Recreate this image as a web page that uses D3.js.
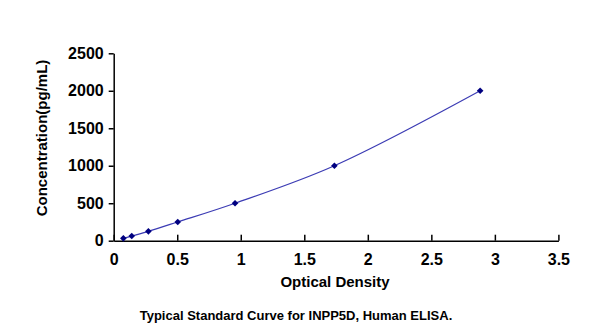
<!DOCTYPE html>
<html>
<head>
<meta charset="utf-8">
<script src="https://cdn.jsdelivr.net/npm/d3@7"></script>
<style>
  html, body { margin: 0; padding: 0; background: #fff; }
  svg { display: block; }
  text { font-family: Arial, "Liberation Sans", sans-serif; font-weight: bold; fill: #000; }
</style>
</head>
<body>
<svg id="chart" width="600" height="329"></svg>
<script>
const odValues = [0.076, 0.142, 0.273, 0.504, 0.955, 1.737, 2.884];
const concValues = [31.25, 62.5, 125, 250, 500, 1000, 2000];
const xTicks = [0, 0.5, 1, 1.5, 2, 2.5, 3, 3.5];
const yTicks = [0, 500, 1000, 1500, 2000, 2500];
const xTitle = "Optical Density";
const yTitle = "Concentration(pg/mL)";
const caption = "Typical Standard Curve for INPP5D, Human ELISA.";

const svg = d3.select("#chart");
const x = d3.scaleLinear().domain([0, 3.5]).range([113.7, 558.4]);
const y = d3.scaleLinear().domain([0, 2500]).range([240.7, 53.3]);
const fmt = d => String(d);

// X axis (ticks pointing up, inside)
const xAxis = svg.append("g").attr("transform", `translate(0,${y(0)})`)
  .call(d3.axisBottom(x).tickValues(xTicks).tickSizeInner(-6).tickSizeOuter(0).tickFormat(fmt));
xAxis.select(".domain").attr("stroke", "#000").attr("stroke-width", 1.5);
xAxis.selectAll(".tick line").attr("stroke", "#000").attr("stroke-width", 1.5);
xAxis.selectAll(".tick text").attr("y", 13).attr("dy", "0.71em")
  .style("font-size", "16px").style("font-family", "Arial, 'Liberation Sans', sans-serif").style("font-weight", "bold");

// Y axis (ticks pointing left)
const yAxis = svg.append("g").attr("transform", `translate(${x(0)},0)`)
  .call(d3.axisLeft(y).tickValues(yTicks).tickSizeInner(5).tickSizeOuter(0).tickFormat(fmt));
yAxis.select(".domain").attr("stroke", "#000").attr("stroke-width", 1.5);
yAxis.selectAll(".tick line").attr("stroke", "#000").attr("stroke-width", 1.5);
yAxis.selectAll(".tick text").attr("x", -10)
  .style("font-size", "16px").style("font-family", "Arial, 'Liberation Sans', sans-serif").style("font-weight", "bold");

// Curve
const pts = odValues.map((v, i) => [v, concValues[i]]);
const line = d3.line().x(d => x(d[0])).y(d => y(d[1])).curve(d3.curveCatmullRom.alpha(0.5));
svg.append("path").datum(pts).attr("d", line)
  .attr("fill", "none").attr("stroke", "#3c3cb4").attr("stroke-width", 1.2);

// Markers (square diamonds)
const diamond = d3.symbolDiamond2 || d3.symbolDiamond;
svg.append("g").selectAll("path").data(pts).join("path")
  .attr("transform", d => `translate(${x(d[0])},${y(d[1])})`)
  .attr("d", d3.symbol().type(diamond).size(28))
  .attr("fill", "#000080");

// Titles
svg.append("text").attr("x", 335).attr("y", 287).attr("text-anchor", "middle")
  .style("font-size", "15px").text(xTitle);
svg.append("text").attr("transform", "translate(47,138) rotate(-90)").attr("text-anchor", "middle")
  .style("font-size", "15px").text(yTitle);
svg.append("text").attr("x", 296).attr("y", 320).attr("text-anchor", "middle")
  .style("font-size", "13px").text(caption);
</script>
</body>
</html>
